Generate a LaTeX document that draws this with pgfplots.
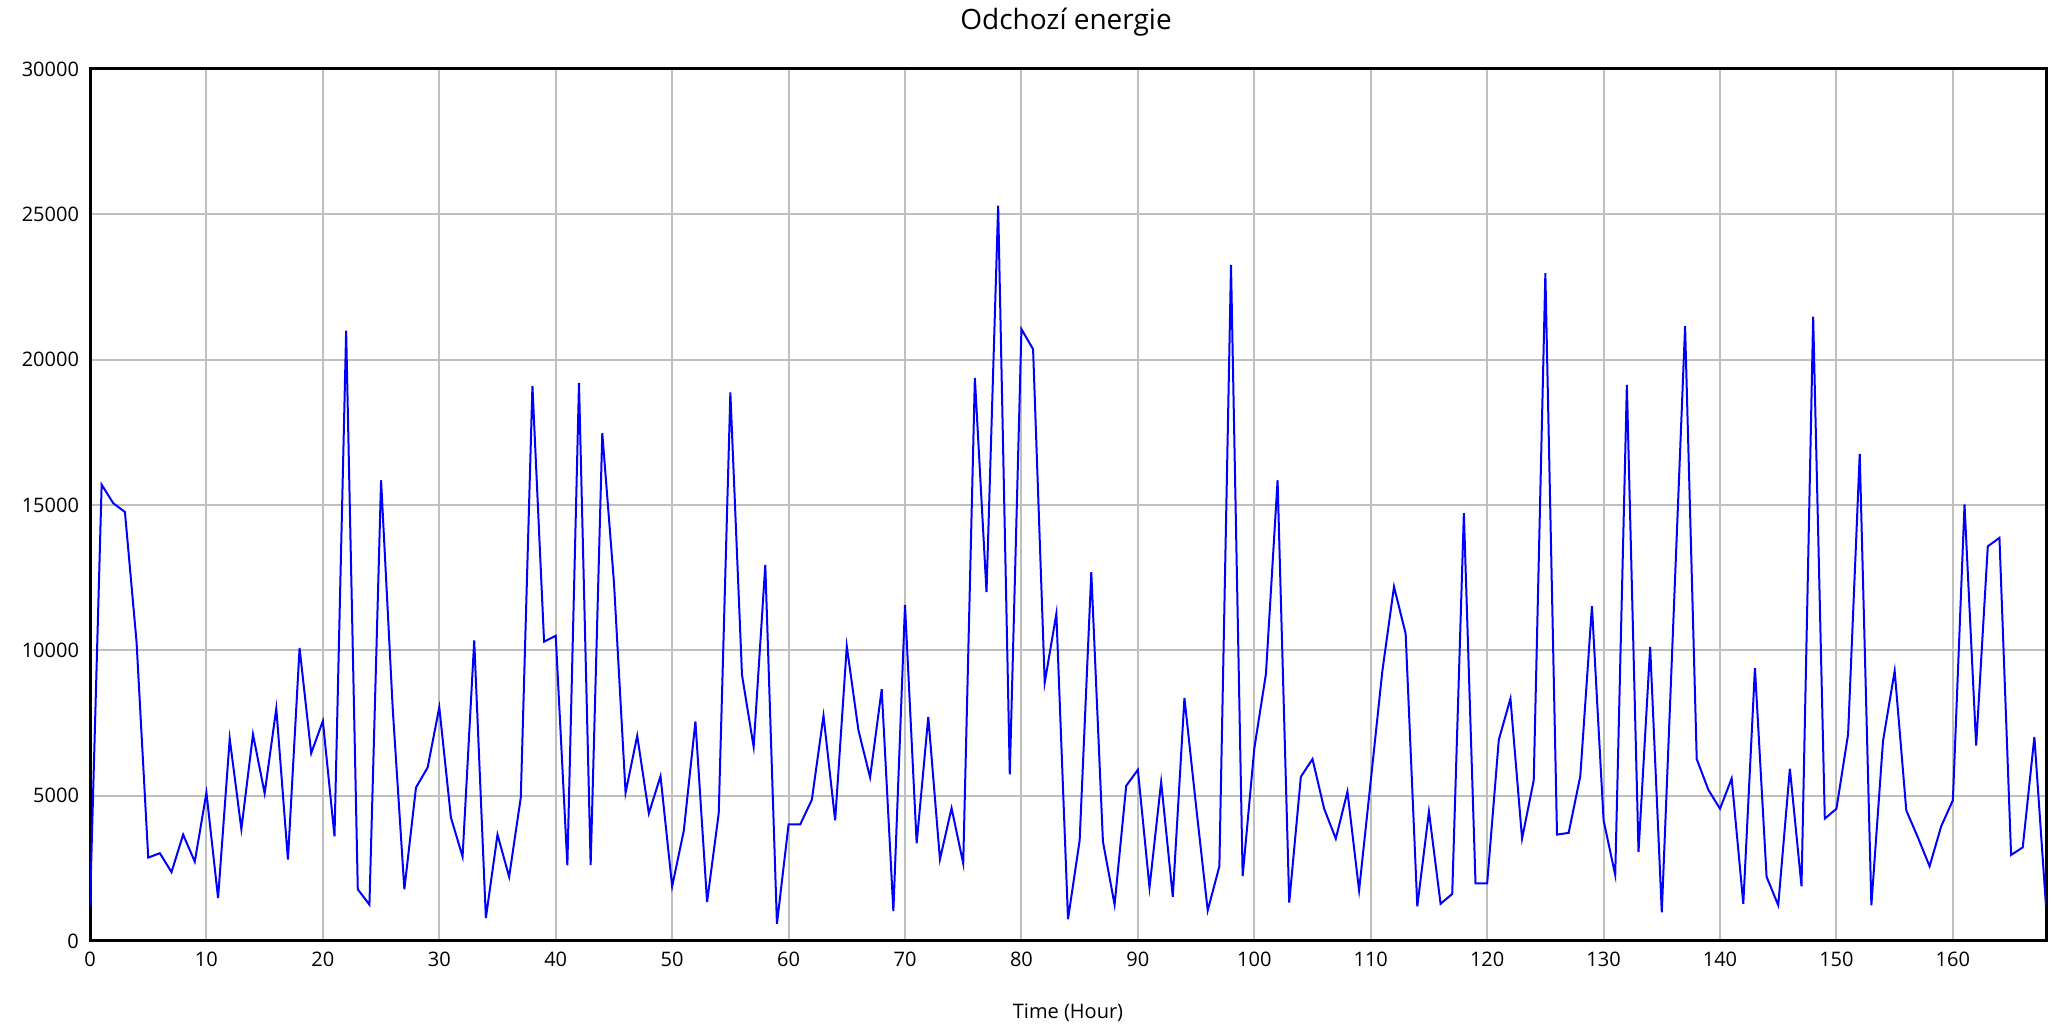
\documentclass[border=0pt]{standalone}
\usepackage{fontspec}
\setmainfont{Open Sans}
\usepackage{pgfplots}
\pgfplotsset{compat=1.18}
\usepackage{pgfplotstable}
\pgfplotstableread{
h v
0 1200
1 15700
2 15060
3 14760
4 10280
5 2870
6 3020
7 2370
8 3660
9 2730
10 5100
11 1480
12 6960
13 3850
14 7110
15 5080
16 8000
17 2800
18 10080
19 6460
20 7570
21 3600
22 21000
23 1780
24 1250
25 15850
26 8000
27 1780
28 5280
29 5970
30 8040
31 4250
32 2900
33 10340
34 790
35 3660
36 2210
37 4940
38 19100
39 10300
40 10500
41 2600
42 19200
43 2610
44 17470
45 12350
46 5100
47 7060
48 4390
49 5670
50 1880
51 3790
52 7550
53 1340
54 4390
55 18870
56 9150
57 6680
58 12940
59 590
60 4010
61 4010
62 4860
63 7750
64 4150
65 10140
66 7250
67 5630
68 8660
69 1030
70 11560
71 3360
72 7710
73 2810
74 4570
75 2670
76 19370
77 12000
78 25300
79 5730
80 21050
81 20360
82 8890
83 11260
84 750
85 3460
86 12690
87 3420
88 1250
89 5340
90 5890
91 1840
92 5470
93 1520
94 8360
95 4640
96 1050
97 2570
98 23260
99 2230
100 6620
101 9190
102 15850
103 1320
104 5650
105 6260
106 4550
107 3520
108 5140
109 1740
110 5500
111 9290
112 12190
113 10570
114 1190
115 4450
116 1280
117 1620
118 14720
119 1980
120 1980
121 6920
122 8340
123 3520
124 5530
125 22980
126 3660
127 3720
128 5670
129 11520
130 4150
131 2270
132 19130
133 3060
134 10120
135 990
136 11070
137 21150
138 6260
139 5200
140 4550
141 5590
142 1280
143 9390
144 2210
145 1230
146 5930
147 1880
148 21480
149 4210
150 4550
151 7110
152 16760
153 1230
154 6880
155 9290
156 4490
157 3560
158 2570
159 3950
160 4840
161 15020
162 6720
163 13580
164 13870
165 2960
166 3220
167 7020
168 1190
}\datatable
\begin{document}
\begin{tikzpicture}
\path[use as bounding box] (-45pt,-45.5pt) rectangle (991pt,470.5pt);
\begin{axis}[
  at={(0,0)}, anchor=south west,
  scale only axis,
  width=978pt, height=436pt,
  xmin=0, xmax=168, ymin=0, ymax=30000,
  xtick={0,10,...,160},
  ytick={0,5000,...,30000},
  scaled y ticks=false,
  /pgf/number format/1000 sep={},
  /pgf/number format/assume math mode=true,
  major tick length=0pt,
  grid=major,
  major grid style={color=black!25, line width=1pt},
  axis line style={line width=1.5pt, black},
  tick label style={font=\fontsize{10}{12}\selectfont},
  xticklabel style={yshift=-2pt},
  yticklabel style={xshift=-2pt},
  xlabel={Time (Hour)},
  xlabel style={font=\fontsize{10}{12}\selectfont, at={(axis description cs:0.5,0)}, anchor=center, yshift=-36pt},
]
\addplot[blue, line width=1pt, mark=none] table[x=h, y=v] {\datatable};
\end{axis}
\node[font=\fontsize{14}{17}\selectfont, anchor=center, inner sep=0pt] at (488pt,459.2pt) {Odchozí energie};
\end{tikzpicture}
\end{document}
